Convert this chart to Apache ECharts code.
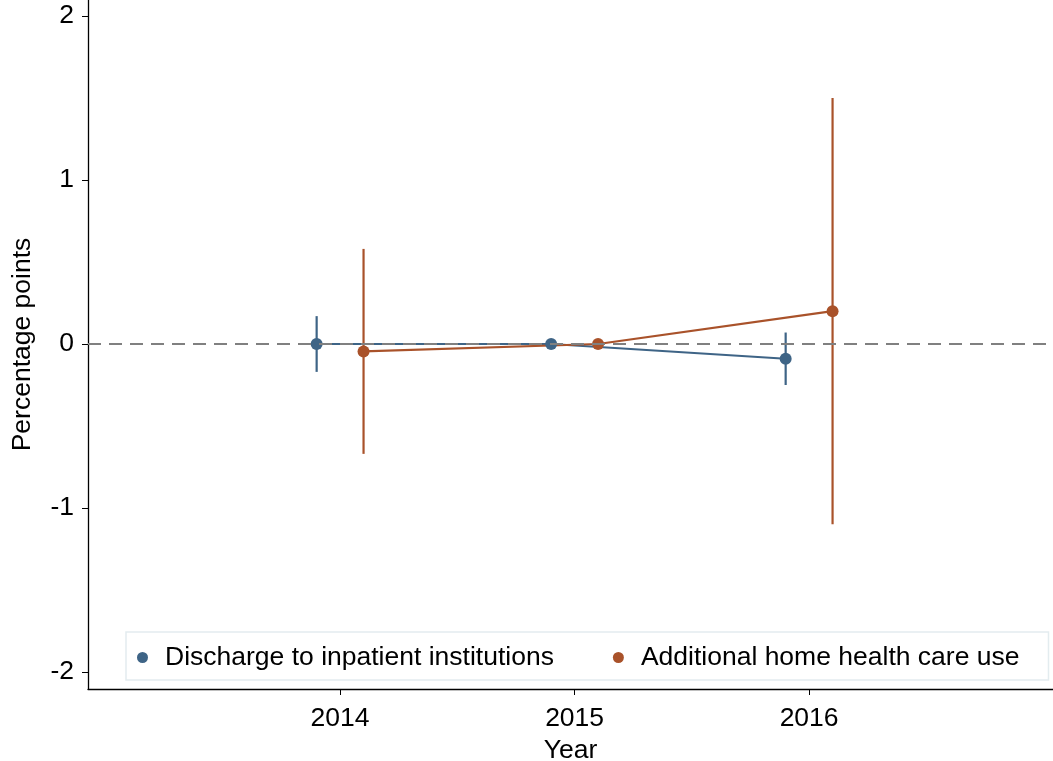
<!DOCTYPE html>
<html><head><meta charset="utf-8">
<script src="https://cdn.jsdelivr.net/npm/echarts@6/dist/echarts.min.js"></script>
<style>html,body{margin:0;padding:0;background:#fff}#c{width:1053px;height:761px}</style>
</head><body><div id="c"></div>
<script>
const years = [2014, 2015, 2016];
const yTicks = [-2, -1, 0, 1, 2];
const seriesNames = ['Discharge to inpatient institutions', 'Additional home health care use'];
const offsets = [-0.1, 0.1];
const dischargeEst = [0, 0, -0.09];
const dischargeLo = [-0.17, null, -0.25];
const dischargeHi = [0.17, null, 0.07];
const homeEst = [-0.045, 0, 0.2];
const homeLo = [-0.67, null, -1.10];
const homeHi = [0.58, null, 1.50];

const colors = ['#3e6486', '#a9522a'];
const FONT = 'Liberation Sans, Arial, Helvetica, sans-serif';
const FS = 26.5;

function pts(est, off) { return years.map((y, i) => [y + off, est[i]]); }
function bars(lo, hi, off) {
  const out = [];
  years.forEach((y, i) => { if (lo[i] !== null) out.push([y + off, lo[i], hi[i]]); });
  return out;
}
function errSeries(name, data, color) {
  return {
    type: 'custom', name: name + ' CI', data: data, z: 3,
    renderItem: function (params, api) {
      const a = api.coord([api.value(0), api.value(1)]);
      const b = api.coord([api.value(0), api.value(2)]);
      return { type: 'line', shape: { x1: a[0], y1: a[1], x2: b[0], y2: b[1] },
        style: { stroke: color, lineWidth: 2.2 } };
    }
  };
}

const chart = echarts.init(document.getElementById('c'), null, { renderer: 'canvas' });
chart.setOption({
  animation: false,
  textStyle: { fontFamily: FONT },
  grid: { left: 88, right: 0, top: 0, bottom: 72, containLabel: false, outerBoundsMode: 'none' },
  xAxis: {
    type: 'value', min: 2012.925, max: 2017.04,
    name: 'Year', nameLocation: 'middle', nameGap: 42,
    nameTextStyle: { fontSize: FS, color: '#000', fontFamily: FONT },
    axisLine: { show: true, onZero: false, lineStyle: { color: '#000', width: 1.3 } },
    axisTick: { show: true, length: 6, lineStyle: { color: '#000' }, customValues: years },
    axisLabel: { fontSize: FS, color: '#000', margin: 16, customValues: years, fontFamily: FONT,
      formatter: v => String(Math.round(v)) },
    splitLine: { show: false }
  },
  yAxis: {
    type: 'value', min: -2.104, max: 2.098,
    name: 'Percentage points', nameLocation: 'middle', nameGap: 52, nameRotate: 90,
    nameTextStyle: { fontSize: FS, color: '#000', fontFamily: FONT },
    axisLine: { show: true, onZero: false, lineStyle: { color: '#000', width: 1.3 } },
    axisTick: { show: true, length: 6, lineStyle: { color: '#000' }, customValues: yTicks },
    axisLabel: { fontSize: FS, color: '#000', margin: 14, customValues: yTicks, fontFamily: FONT,
      formatter: v => String(Math.round(v)) },
    splitLine: { show: false }
  },
  legend: {
    data: [
      { name: seriesNames[0], icon: 'circle' },
      { name: seriesNames[1], icon: 'circle' }
    ],
    left: 126, top: 632, itemWidth: 11, itemHeight: 11, itemGap: 59,
    padding: [12, 29, 9, 11],
    borderColor: '#e3ecef', borderWidth: 1.5, backgroundColor: '#fff',
    textStyle: { fontSize: FS, color: '#000', fontFamily: FONT, padding: [0, 0, 0, 12] }
  },
  series: [
    {
      type: 'line', name: seriesNames[0], data: pts(dischargeEst, offsets[0]),
      color: colors[0], symbol: 'circle', symbolSize: 12, z: 4,
      lineStyle: { width: 2.2, color: colors[0] }, itemStyle: { color: colors[0] },
      markLine: {
        silent: true, symbol: 'none', label: { show: false },
        lineStyle: { color: '#808080', width: 2, type: [13, 8] },
        data: [{ yAxis: 0 }]
      }
    },
    {
      type: 'line', name: seriesNames[1], data: pts(homeEst, offsets[1]),
      color: colors[1], symbol: 'circle', symbolSize: 12, z: 4,
      lineStyle: { width: 2.2, color: colors[1] }, itemStyle: { color: colors[1] }
    },
    errSeries(seriesNames[0], bars(dischargeLo, dischargeHi, offsets[0]), colors[0]),
    errSeries(seriesNames[1], bars(homeLo, homeHi, offsets[1]), colors[1])
  ]
});
</script></body></html>
